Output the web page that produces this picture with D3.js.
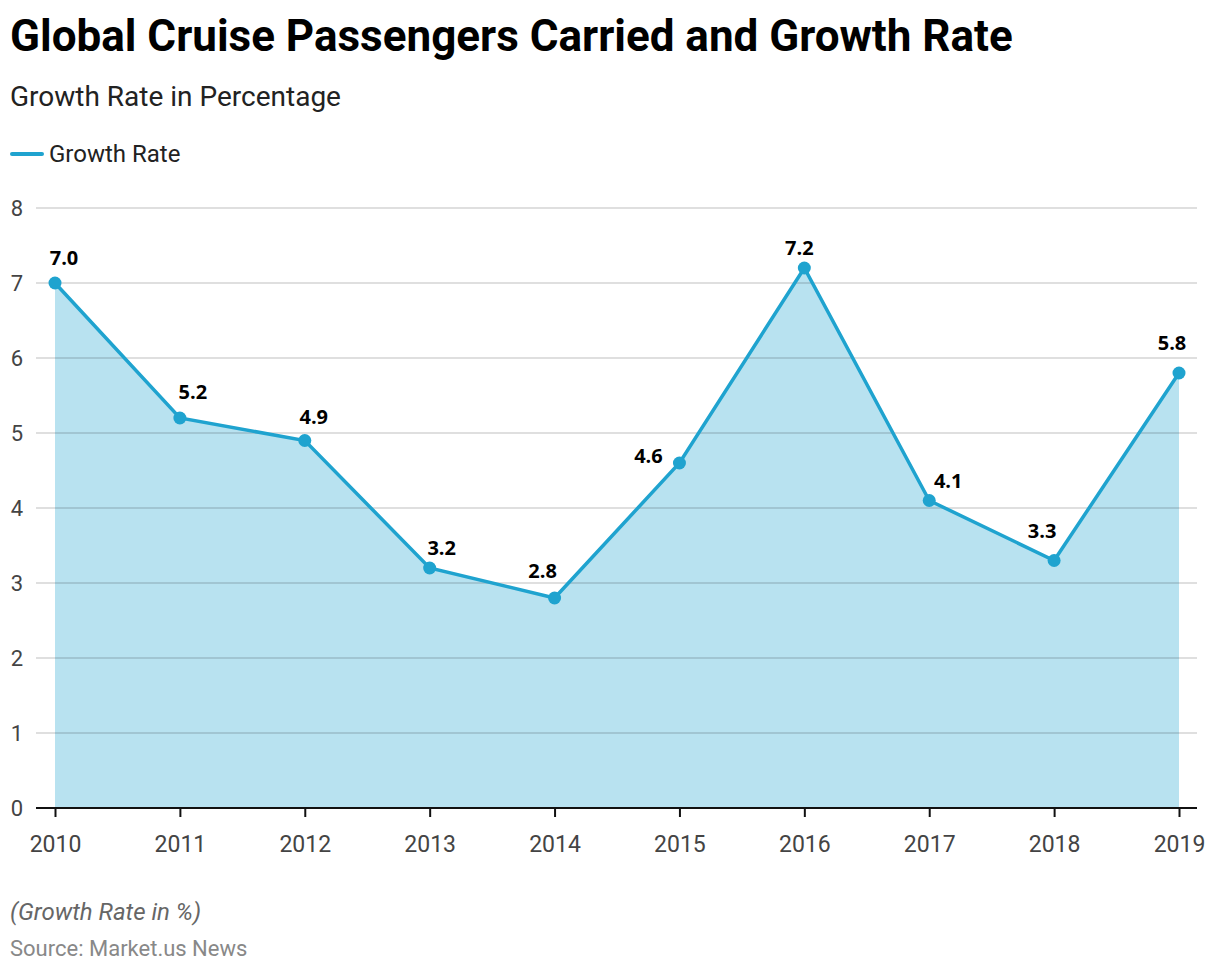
<!DOCTYPE html>
<html><head><meta charset="utf-8">
<script src="https://cdn.jsdelivr.net/npm/d3@7"></script>
<style>body{margin:0;background:#fff;} svg{display:block;}</style>
</head><body>
<script>
const years = ["2010","2011","2012","2013","2014","2015","2016","2017","2018","2019"];
const growthRate = [7.0, 5.2, 4.9, 3.2, 2.8, 4.6, 7.2, 4.1, 3.3, 5.8];
const yTicks = [0,1,2,3,4,5,6,7,8];
const labelOffsets = [[9,-25],[13,-26],[9,-24],[12,-20],[-12,-27],[-31,-7],[-5,-20],[19,-20],[-12,-30],[-7,-30]];

const W = 1220, H = 972;
const svg = d3.select("body").append("svg").attr("width", W).attr("height", H);
const font = "Roboto, sans-serif";

svg.append("text").attr("x",10).attr("y",51).attr("font-family",font).attr("font-weight",700)
  .attr("font-size",44).attr("fill","#000").text("Global Cruise Passengers Carried and Growth Rate");
svg.append("text").attr("x",10).attr("y",106).attr("font-family",font)
  .attr("font-size",28).attr("fill","#222").text("Growth Rate in Percentage");
svg.append("line").attr("x1",12).attr("x2",42).attr("y1",154).attr("y2",154)
  .attr("stroke","#1fa3cf").attr("stroke-width",4).attr("stroke-linecap","round");
svg.append("text").attr("x",49).attr("y",162).attr("font-family",font)
  .attr("font-size",24).attr("fill","#222").text("Growth Rate");

const x = d3.scalePoint().domain(years).range([55,1179]);
const y = d3.scaleLinear().domain([0,8]).range([808,208]);

const pts = years.map((yr,i)=>({yr, v: growthRate[i]}));
svg.append("path").datum(pts)
  .attr("d", d3.area().x(d=>x(d.yr)).y0(y(0)).y1(d=>y(d.v)))
  .attr("fill","#b8e2f0");

svg.append("g").selectAll("line").data(yTicks.filter(t=>t>0)).join("line")
  .attr("x1",36).attr("x2",1197).attr("y1",d=>y(d)).attr("y2",d=>y(d))
  .attr("stroke","#000").attr("stroke-opacity",0.17).attr("stroke-width",1.5);

svg.append("g").selectAll("text").data(yTicks).join("text")
  .attr("x",23).attr("y",d=>y(d)+8).attr("text-anchor","end")
  .attr("font-family",font).attr("font-size",22).attr("fill","#444").text(d=>d);

const xAxis = svg.append("g").attr("transform","translate(0,808)")
  .call(d3.axisBottom(x).tickSize(9).tickPadding(19));
xAxis.select(".domain").remove();
xAxis.selectAll(".tick line").attr("stroke","#111").attr("stroke-width",2);
xAxis.selectAll(".tick text").attr("font-family",font).attr("font-size",23).attr("fill","#444");
svg.append("line").attr("x1",36).attr("x2",1197).attr("y1",808).attr("y2",808)
  .attr("stroke","#111").attr("stroke-width",2);

svg.append("path").datum(pts)
  .attr("d", d3.line().x(d=>x(d.yr)).y(d=>y(d.v)))
  .attr("fill","none").attr("stroke","#1fa3cf").attr("stroke-width",3.5);
svg.append("g").selectAll("circle").data(pts).join("circle")
  .attr("cx",d=>x(d.yr)).attr("cy",d=>y(d.v)).attr("r",6.5).attr("fill","#1fa3cf");

svg.append("g").selectAll("text").data(pts).join("text")
  .attr("x",(d,i)=>x(d.yr)+labelOffsets[i][0]).attr("y",(d,i)=>y(d.v)+labelOffsets[i][1]+7)
  .attr("text-anchor","middle").attr("font-family","'Open Sans', sans-serif")
  .attr("font-weight",700).attr("font-size",20).attr("fill","#000")
  .text(d=>d.v.toFixed(1));

svg.append("text").attr("x",10).attr("y",920).attr("font-family",font).attr("font-style","italic")
  .attr("font-size",24).attr("fill","#666").text("(Growth Rate in %)");
svg.append("text").attr("x",10).attr("y",956).attr("font-family",font)
  .attr("font-size",22).attr("fill","#888").text("Source: Market.us News");
</script>
</body></html>
